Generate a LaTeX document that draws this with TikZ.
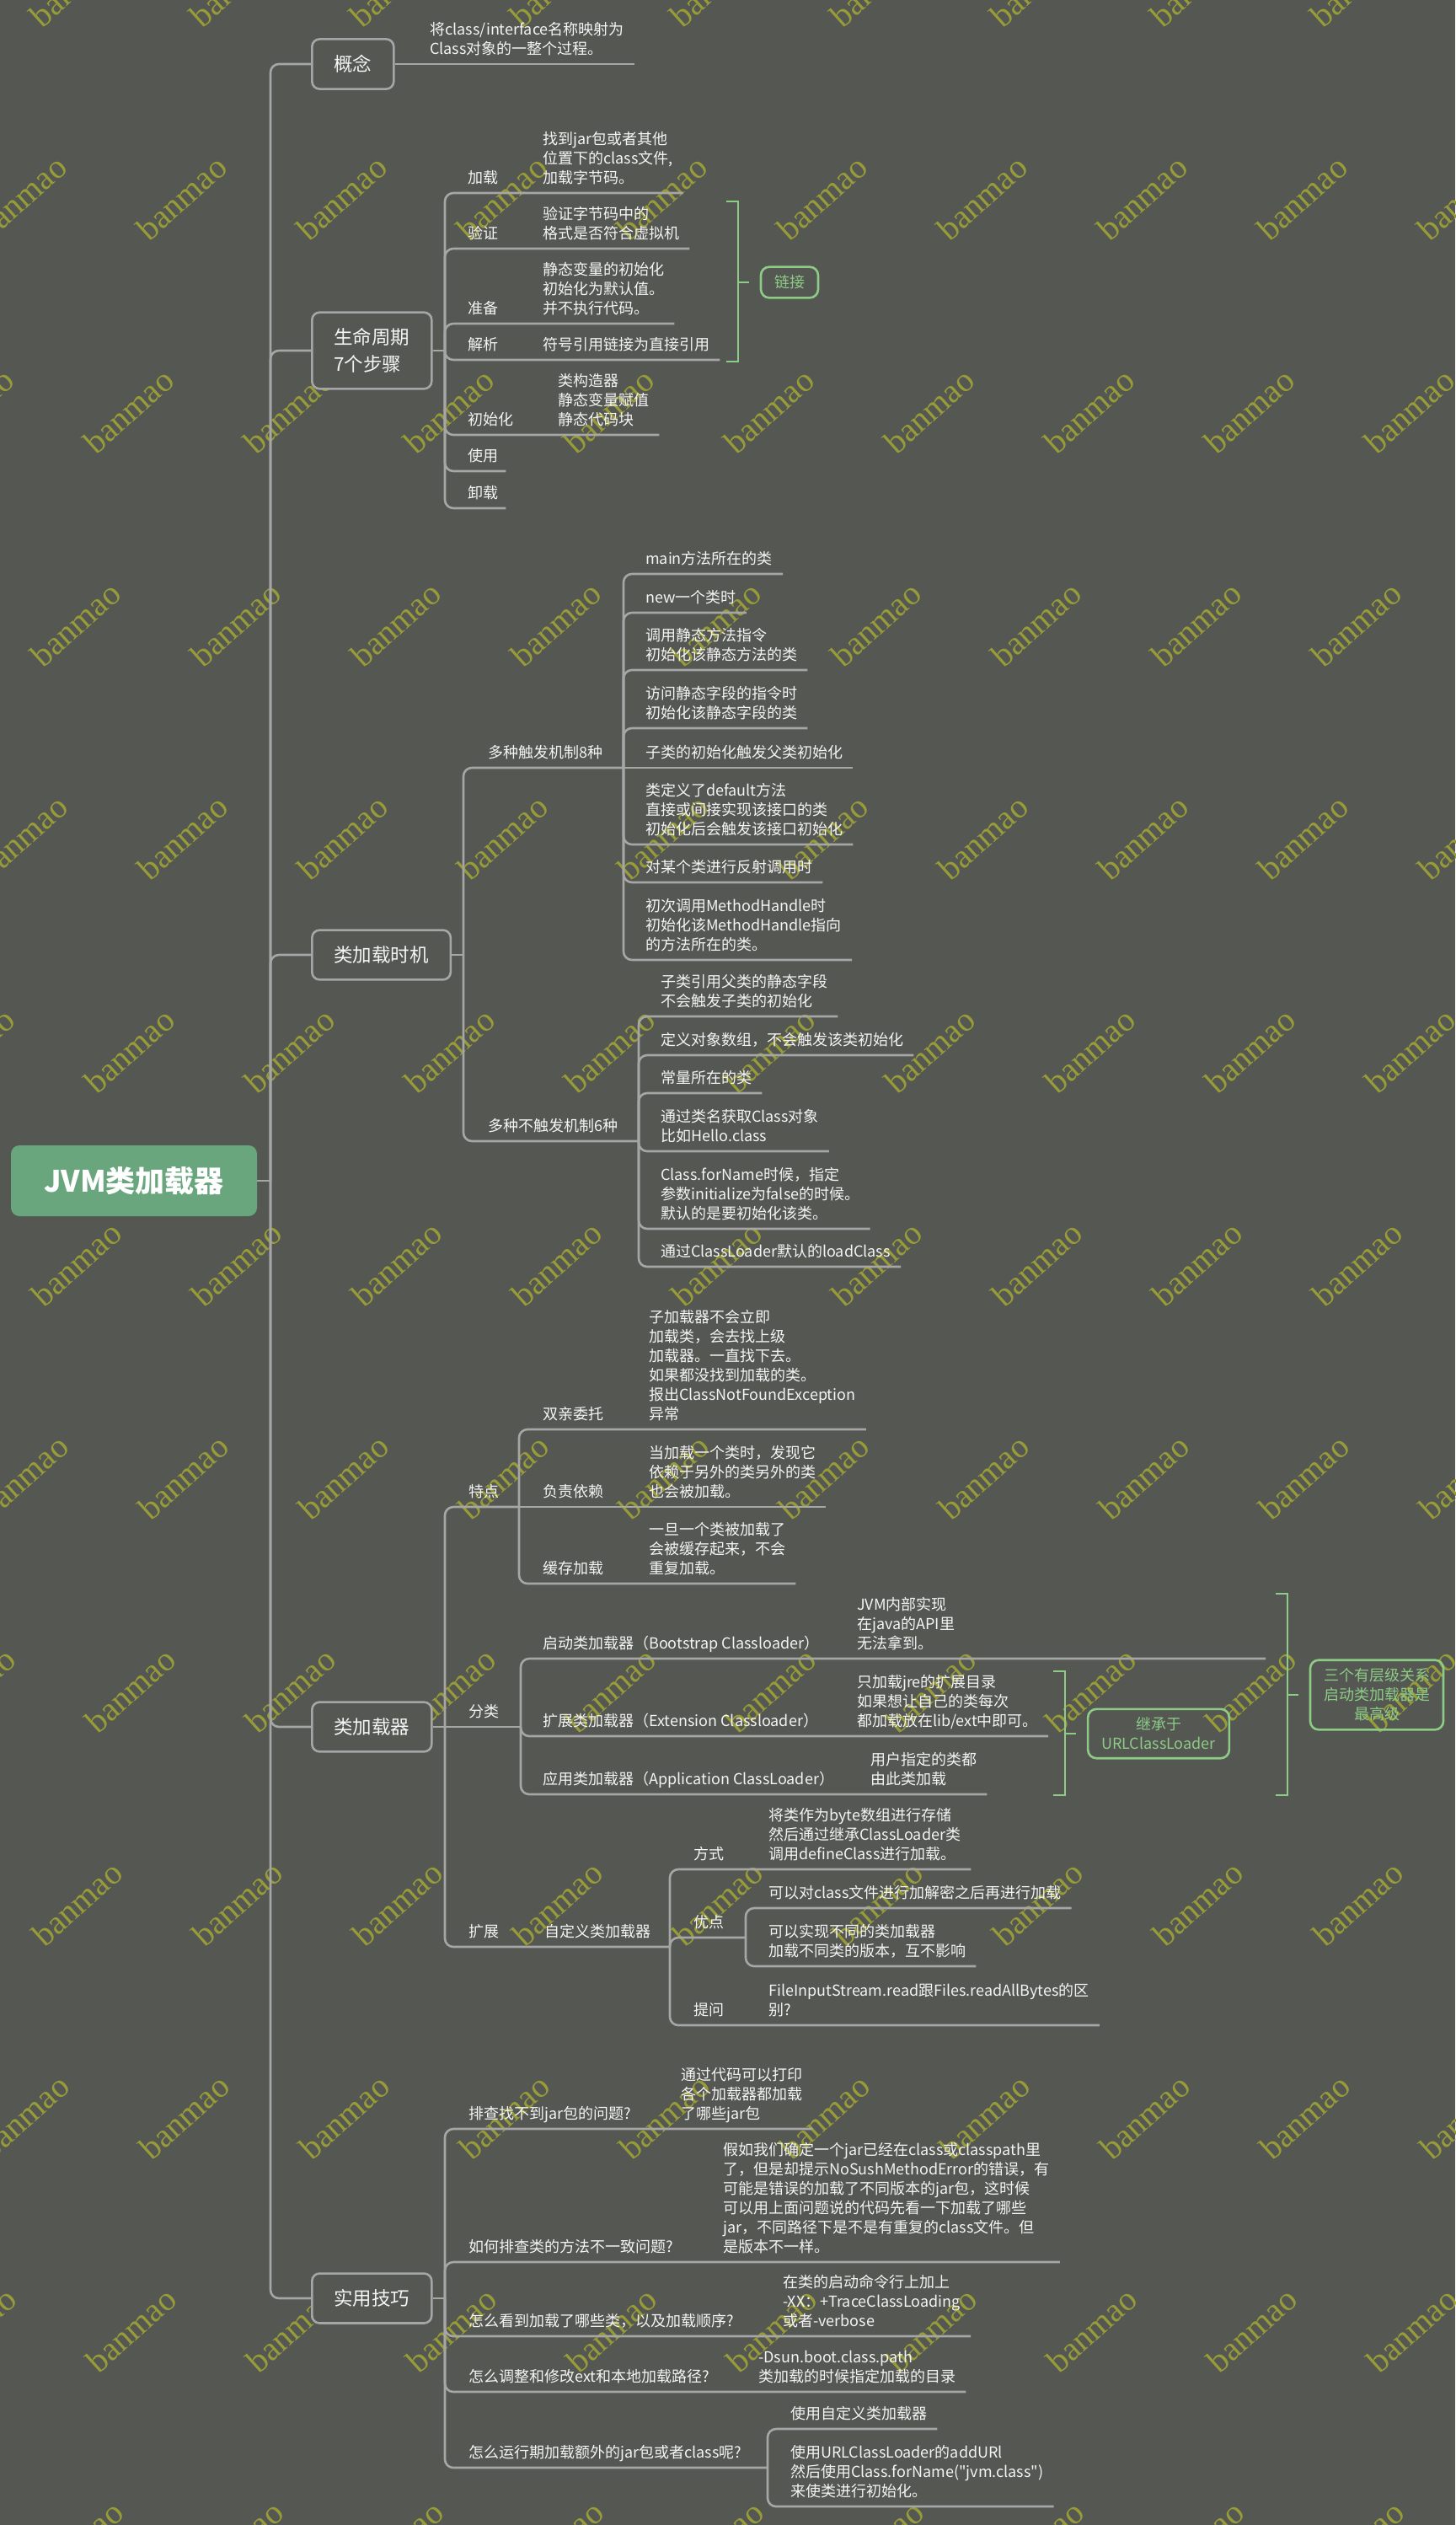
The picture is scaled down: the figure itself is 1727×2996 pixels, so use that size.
\documentclass[tikz,border=0pt]{standalone}
\usepackage{fontspec}
\setmainfont{Noto Sans CJK SC}[Ligatures=TeXOff]
\newfontfamily\wmfont{Liberation Serif}
\usepackage{graphicx}
\usepackage{tikz}
\usetikzlibrary{positioning, calc}
\usepackage{xcolor}
\definecolor{bgdark}{HTML}{555753}
\definecolor{linegray}{HTML}{A6A6A6}
\definecolor{txt}{HTML}{F4F4F4}
\definecolor{linkgreen}{HTML}{8DCB86}
\definecolor{rootgreen}{HTML}{69A67D}
\definecolor{wmcol}{HTML}{989C38}
\newcommand{\wmtext}{\rotatebox{42}{banmao}}
\tikzset{
	rootbox/.style={fill=rootgreen, rounded corners=10pt, text=white, font={\fontsize{35}{40}\selectfont\bfseries}, minimum width=292pt, minimum height=84pt},
	topic/.style={draw=linegray, line width=2.6pt, rounded corners=9pt, fill=bgdark, text=txt, font=\fontsize{22.5}{31.7}\selectfont, inner xsep=26pt, inner ysep=19pt, align=left, anchor=west},
	leaf/.style={text=txt, font=\fontsize{18}{23}\selectfont, inner xsep=0pt, inner ysep=4pt, align=left, anchor=south west, execute at end node=\strut},
	tagbox/.style={draw=linkgreen, line width=2.6pt, rounded corners=10pt, text=linkgreen, font=\fontsize{18}{23}\selectfont, inner xsep=16pt, inner ysep=10pt, align=center},
	branchline/.style={draw=linegray, line width=2.6pt, rounded corners=10pt},
	bracketline/.style={draw=linkgreen, line width=2.6pt},
	wmark/.style={text=wmcol, font={\wmfont\fontsize{40}{40}\selectfont}, anchor=base west, inner sep=0pt}
}
\begin{document}
\begin{tikzpicture}[x=1pt, y=-1pt]
	\useasboundingbox (0,0) rectangle (1727,2996);
	\fill[bgdark] (0,0) rectangle (1727,2996);
	% Watermark
	\begin{scope}
		\clip (0,0) rectangle (1727,2996);
		\foreach \r in {-1,...,11}
		\foreach \k in {-3,...,11}
		\node[wmark] (wm-\r-\k) at ({349-63*\r+190*\k}, {287+253*\r}) {\wmtext};
	\end{scope}
	
	% Root and main topics
	\node[rootbox] (root) at (159,1401) {JVM类加载器};
	\node[topic] (concept) at (369,76) {概念};
	\node[topic] (life) at (369,416) {生命周期\\7个步骤};
	\node[topic] (timing) at (369,1133) {类加载时机};
	\node[topic] (loader) at (369,2049) {类加载器};
	\node[topic] (tips) at (369,2727) {实用技巧};
	\coordinate (trunk) at (321,1401);
	\draw[branchline] (root.east) -- (trunk);
	\foreach \t in {concept,life,timing,loader,tips}
	\draw[branchline] (trunk) |- (\t.west);
	
	% Concept
	\node[leaf] (concept-d) at (510,76) {将class/interface名称映射为\\Class对象的一整个过程。};
	\draw[branchline] (concept.east) -- ([xshift=12pt]concept-d.south east);
	
	% Life cycle
	\coordinate (life-j) at (528,416);
	\draw[branchline] (life.east) -- (life-j);
	\foreach \i/\y/\lbl in {1/229/加载, 2/295/验证, 3/384/准备, 4/427/解析, 5/516/初始化, 6/559/使用, 7/603/卸载}
	\node[leaf] (life-l\i) at (555,\y) {\lbl};
	\node[leaf] (life-d1) at (644,229) {找到jar包或者其他\\位置下的class文件,\\加载字节码。};
	\node[leaf] (life-d2) at (644,295) {验证字节码中的\\格式是否符合虚拟机};
	\node[leaf] (life-d3) at (644,384) {静态变量的初始化\\初始化为默认值。\\并不执行代码。};
	\node[leaf] (life-d4) at (644,427) {符号引用链接为直接引用};
	\node[leaf] (life-d5) at (662,516) {类构造器\\静态变量赋值\\静态代码块};
	\foreach \i in {1,...,5}
	\draw[branchline] (life-j) |- (life-l\i.south west) -- ([xshift=12pt]life-d\i.south east);
	\foreach \i in {6,7}
	\draw[branchline] (life-j) |- ([xshift=9pt]life-l\i.south east);
	% Linking bracket
	\coordinate (link-top) at (862,239);
	\coordinate (link-bot) at (862,429);
	\node[tagbox] (link) at (937,335) {链接};
	\draw[bracketline] (link-top) -- ++(14,0) coordinate (link-v) |- (link-bot);
	\draw[bracketline] (link-v |- link.west) -- ++(13,0);
	
	% Loading timing
	\coordinate (timing-j) at (550,1133);
	\draw[branchline] (timing.east) -- (timing-j);
	\node[leaf] (trig) at (579,911) {多种触发机制8种};
	\node[leaf] (notrig) at (579,1354) {多种不触发机制6种};
	\coordinate (trig-j) at (740,911);
	\coordinate (notrig-j) at (758,1354);
	\draw[branchline] (timing-j) |- (trig.south west) -- (trig-j);
	\draw[branchline] (timing-j) |- (notrig.south west) -- (notrig-j);
	\node[leaf] (trig-1) at (766,681) {main方法所在的类};
	\node[leaf] (trig-2) at (766,727) {new一个类时};
	\node[leaf] (trig-3) at (766,795) {调用静态方法指令\\初始化该静态方法的类};
	\node[leaf] (trig-4) at (766,864) {访问静态字段的指令时\\初始化该静态字段的类};
	\node[leaf] (trig-5) at (766,911) {子类的初始化触发父类初始化};
	\node[leaf] (trig-6) at (766,1002) {类定义了default方法\\直接或间接实现该接口的类\\初始化后会触发该接口初始化};
	\node[leaf] (trig-7) at (766,1047) {对某个类进行反射调用时};
	\node[leaf] (trig-8) at (766,1139) {初次调用MethodHandle时\\初始化该MethodHandle指向\\的方法所在的类。};
	\foreach \i in {1,2,3,4,6,7,8}
	\draw[branchline] (trig-j) |- (trig-\i.south west) -- ([xshift=12pt]trig-\i.south east);
	\draw[branchline] (trig-j) -- (trig-5.south west) -- ([xshift=12pt]trig-5.south east);
	\node[leaf] (notrig-1) at (784,1206) {子类引用父类的静态字段\\不会触发子类的初始化};
	\node[leaf] (notrig-2) at (784,1252) {定义对象数组，不会触发该类初始化};
	\node[leaf] (notrig-3) at (784,1297) {常量所在的类};
	\node[leaf] (notrig-4) at (784,1366) {通过类名获取Class对象\\比如Hello.class};
	\node[leaf] (notrig-5) at (784,1458) {Class.forName时候，指定\\参数initialize为false的时候。\\默认的是要初始化该类。};
	\node[leaf] (notrig-6) at (784,1503) {通过ClassLoader默认的loadClass};
	\foreach \i in {1,...,6}
	\draw[branchline] (notrig-j) |- (notrig-\i.south west) -- ([xshift=12pt]notrig-\i.south east);
	
	% Class loaders
	\coordinate (loader-j) at (528,2049);
	\draw[branchline] (loader.east) -- (loader-j);
	\node[leaf] (feat) at (556,1788) {特点};
	\node[leaf] (kind) at (556,2049) {分类};
	\node[leaf] (ext) at (556,2310) {扩展};
	\coordinate (feat-j) at (616,1788);
	\coordinate (kind-j) at (618,2049);
	\coordinate (ext-j) at (795,2310);
	\draw[branchline] (loader-j) |- (feat.south west) -- (feat-j);
	\draw[branchline] (loader-j) -- (kind.south west) -- (kind-j);
	\draw[branchline] (loader-j) |- (ext.south west) -- (ext-j);
	% Features
	\node[leaf] (feat-l1) at (644,1696) {双亲委托};
	\node[leaf] (feat-d1) at (770,1696) {子加载器不会立即\\加载类，会去找上级\\加载器。一直找下去。\\如果都没找到加载的类。\\报出ClassNotFoundException\\异常};
	\node[leaf] (feat-l2) at (644,1788) {负责依赖};
	\node[leaf] (feat-d2) at (770,1788) {当加载一个类时，发现它\\依赖于另外的类另外的类\\也会被加载。};
	\node[leaf] (feat-l3) at (644,1879) {缓存加载};
	\node[leaf] (feat-d3) at (770,1879) {一旦一个类被加载了\\会被缓存起来，不会\\重复加载。};
	\foreach \i in {1,3}
	\draw[branchline] (feat-j) |- (feat-l\i.south west) -- ([xshift=12pt]feat-d\i.south east);
	\draw[branchline] (feat-j) -- (feat-l2.south west) -- ([xshift=12pt]feat-d2.south east);
	% Kinds
	\node[leaf] (kind-l1) at (644,1968) {启动类加载器（Bootstrap Classloader）};
	\node[leaf] (kind-d1) at (1017,1968) {JVM内部实现\\在java的API里\\无法拿到。};
	\node[leaf] (kind-l2) at (644,2060) {扩展类加载器（Extension Classloader）};
	\node[leaf] (kind-d2) at (1017,2060) {只加载jre的扩展目录\\如果想让自己的类每次\\都加载放在lib/ext中即可。};
	\node[leaf] (kind-l3) at (644,2129) {应用类加载器（Application ClassLoader）};
	\node[leaf] (kind-d3) at (1033,2129) {用户指定的类都\\由此类加载};
	\coordinate (kind-end) at (1502,1968);
	\draw[branchline] (kind-j) |- (kind-l1.south west) -- (kind-end);
	\foreach \i in {2,3}
	\draw[branchline] (kind-j) |- (kind-l\i.south west) -- ([xshift=12pt]kind-d\i.south east);
	% Hierarchy brackets
	\coordinate (inherit-top) at (1250,1983);
	\coordinate (inherit-bot) at (1250,2130);
	\node[tagbox] (inherit) at (1375,2057) {继承于\\URLClassLoader};
	\draw[bracketline] (inherit-top) -- ++(14,0) coordinate (inherit-v) |- (inherit-bot);
	\draw[bracketline] (inherit-v |- inherit.west) -- ++(13,0);
	\coordinate (tier-top) at (1514,1891);
	\coordinate (tier-bot) at (1514,2130);
	\node[tagbox] (tier) at (1634,2011) {三个有层级关系\\启动类加载器是\\最高级};
	\draw[bracketline] (tier-top) -- ++(14,0) coordinate (tier-v) |- (tier-bot);
	\draw[bracketline] (tier-v |- tier.west) -- ++(13,0);
	% Custom loader
	\node[leaf] (ext-c) at (646,2310) {自定义类加载器};
	\node[leaf] (ext-l1) at (823,2218) {方式};
	\node[leaf] (ext-d1) at (912,2218) {将类作为byte数组进行存储\\然后通过继承ClassLoader类\\调用defineClass进行加载。};
	\node[leaf] (ext-l2) at (823,2299) {优点};
	\node[leaf] (ext-l3) at (823,2403) {提问};
	\node[leaf] (ext-d3) at (912,2403) {FileInputStream.read跟Files.readAllBytes的区\\别?};
	\coordinate (good-j) at (885,2299);
	\node[leaf] (good-1) at (912,2264) {可以对class文件进行加解密之后再进行加载};
	\node[leaf] (good-2) at (912,2333) {可以实现不同的类加载器\\加载不同类的版本，互不影响};
	\foreach \i in {1,3}
	\draw[branchline] (ext-j) |- (ext-l\i.south west) -- ([xshift=12pt]ext-d\i.south east);
	\draw[branchline] (ext-j) |- (ext-l2.south west) -- (good-j);
	\foreach \i in {1,2}
	\draw[branchline] (good-j) |- (good-\i.south west) -- ([xshift=12pt]good-\i.south east);
	
	% Tips
	\coordinate (tips-j) at (528,2727);
	\draw[branchline] (tips.east) -- (tips-j);
	\node[leaf] (tip-l1) at (556,2526) {排查找不到jar包的问题?};
	\node[leaf] (tip-d1) at (808,2526) {通过代码可以打印\\各个加载器都加载\\了哪些jar包};
	\node[leaf] (tip-l2) at (556,2684) {如何排查类的方法不一致问题?};
	\node[leaf] (tip-d2) at (858,2684) {假如我们确定一个jar已经在class或classpath里\\了，但是却提示NoSushMethodError的错误，有\\可能是错误的加载了不同版本的jar包，这时候\\可以用上面问题说的代码先看一下加载了哪些\\jar，不同路径下是不是有重复的class文件。但\\是版本不一样。};
	\node[leaf] (tip-l3) at (556,2772) {怎么看到加载了哪些类，以及加载顺序?};
	\node[leaf] (tip-d3) at (929,2772) {在类的启动命令行上加上\\-XX：+TraceClassLoading\\或者-verbose};
	\node[leaf] (tip-l4) at (556,2838) {怎么调整和修改ext和本地加载路径?};
	\node[leaf] (tip-d4) at (900,2838) {-Dsun.boot.class.path\\类加载的时候指定加载的目录};
	\node[leaf] (tip-l5) at (556,2928) {怎么运行期加载额外的jar包或者class呢?};
	\foreach \i in {1,...,4}
	\draw[branchline] (tips-j) |- (tip-l\i.south west) -- ([xshift=12pt]tip-d\i.south east);
	\coordinate (load-j) at (911,2928);
	\draw[branchline] (tips-j) |- (tip-l5.south west) -- (load-j);
	\node[leaf] (load-1) at (938,2882) {使用自定义类加载器};
	\node[leaf] (load-2) at (938,2974) {使用URLClassLoader的addURl\\然后使用Class.forName("jvm.class")\\来使类进行初始化。};
	\foreach \i in {1,2}
	\draw[branchline] (load-j) |- (load-\i.south west) -- ([xshift=12pt]load-\i.south east);
\end{tikzpicture}
\end{document}
